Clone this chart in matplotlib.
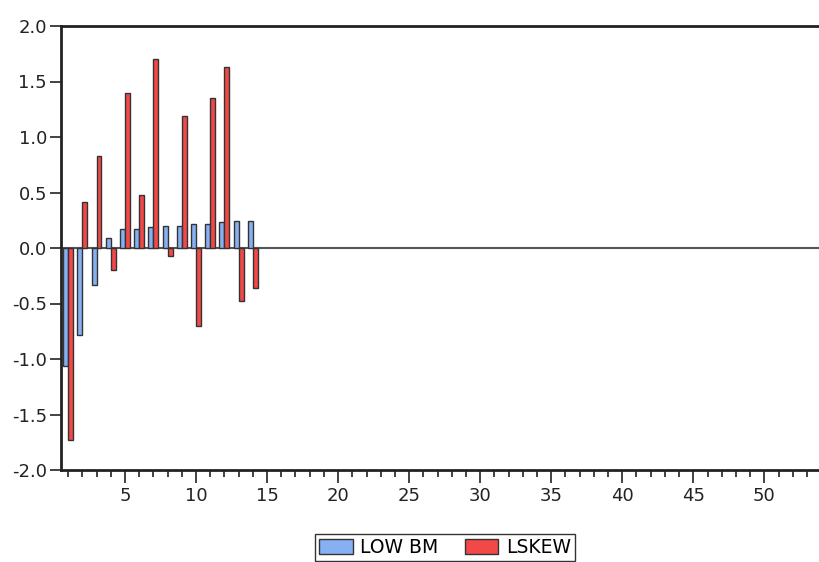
import matplotlib.pyplot as plt
import numpy as np
from matplotlib.ticker import MultipleLocator

plt.rcParams['font.family'] = ['DejaVu Sans']

# Data
lags = np.arange(1, 15)
low_bm = [-1.06, -0.78, -0.33, 0.09, 0.17, 0.17, 0.19, 0.20, 0.20, 0.215, 0.22, 0.23, 0.24, 0.24]
lskew = [-1.73, 0.41, 0.83, -0.20, 1.40, 0.48, 1.70, -0.07, 1.19, -0.70, 1.35, 1.63, -0.48, -0.36]
x_ticks = [5, 10, 15, 20, 25, 30, 35, 40, 45, 50]
y_ticks = [-2.0, -1.5, -1.0, -0.5, 0.0, 0.5, 1.0, 1.5, 2.0]

fig = plt.figure(figsize=(8.19, 5.62), dpi=100)
# axes run off the right edge of the figure
ax = fig.add_axes([61 / 819, 92 / 562, 800 / 819, 444 / 562])

w = 0.35
ax.bar(lags - w / 2, low_bm, width=w, color='#86B0F2', edgecolor='#333333',
       linewidth=1.0, label='LOW BM', zorder=3)
ax.bar(lags + w / 2, lskew, width=w, color='#F24848', edgecolor='#333333',
       linewidth=1.0, label='LSKEW', zorder=3)

ax.axhline(0, color='#555555', linewidth=1.5, zorder=2)

ax.set_xlim(0.5, 56.8)
ax.set_ylim(-2.0, 2.0)
ax.set_xticks(x_ticks)
ax.xaxis.set_minor_locator(MultipleLocator(1))
ax.set_yticks(y_ticks)
ax.set_yticklabels([f'{v:.1f}' for v in y_ticks])

ax.tick_params(axis='both', which='major', labelsize=13, color='#222222',
               labelcolor='#222222', width=1.2)
ax.tick_params(axis='x', which='major', length=9, direction='out', pad=3)
ax.tick_params(axis='x', which='minor', length=5, direction='out', width=1.2,
               color='#222222')
ax.tick_params(axis='y', which='major', length=8, direction='out', pad=2)
ax.tick_params(axis='y', which='minor', left=False)

for side in ['left', 'top', 'bottom']:
    ax.spines[side].set_color('#222222')
    ax.spines[side].set_linewidth(2.0)
ax.spines['right'].set_visible(False)

fig.legend(loc='upper center', bbox_to_anchor=(445 / 819, 1 - 534 / 562),
           borderaxespad=0, ncol=2, fontsize=13.5, frameon=True,
           fancybox=False, edgecolor='#333333', handlelength=1.8,
           handleheight=0.9, handletextpad=0.4, columnspacing=1.4,
           borderpad=0.2, framealpha=1)

plt.savefig('out.png', dpi=100)
